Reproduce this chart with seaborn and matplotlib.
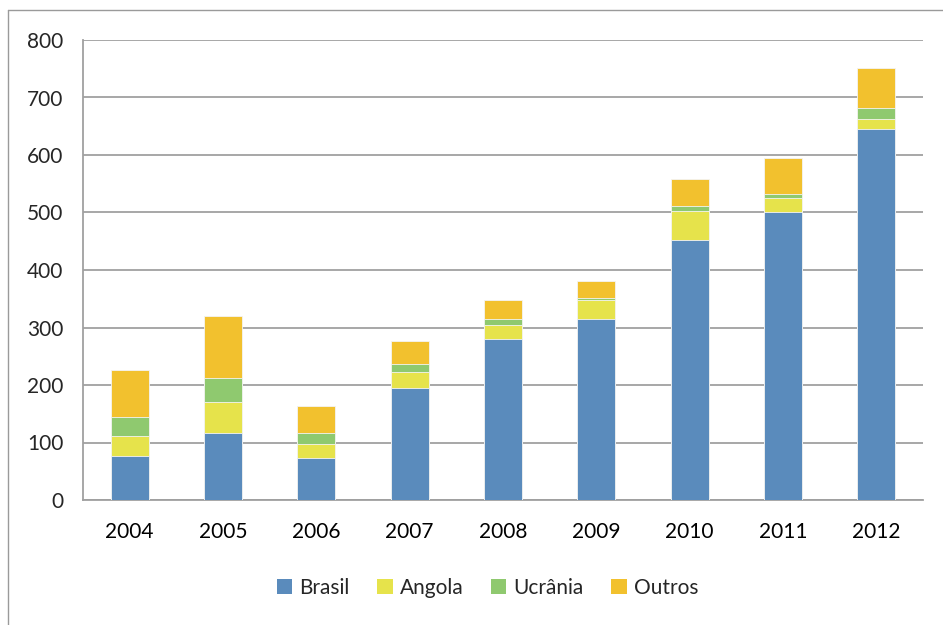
import matplotlib
matplotlib.use("Agg")
import matplotlib.pyplot as plt
from matplotlib.lines import Line2D
from matplotlib.patches import Patch
import seaborn as sns
import pandas as pd
import numpy as np

# Dados
anos = ["2004", "2005", "2006", "2007", "2008", "2009", "2010", "2011", "2012"]
brasil = [77, 117, 73, 194, 280, 315, 452, 500, 645]
angola = [35, 53, 24, 29, 25, 33, 50, 26, 17]
ucrania = [33, 42, 20, 13, 10, 4, 10, 7, 20]
outros = [81, 108, 46, 40, 33, 29, 46, 61, 69]

series = ["Brasil", "Angola", "Ucrânia", "Outros"]
cores = ["#5A8BBC", "#E6E34B", "#8FC96F", "#F2C12E"]

sns.set_style("white")
plt.rcParams["font.family"] = ["Lato", "DejaVu Sans"]

df = pd.DataFrame({"Ano": anos, "Brasil": brasil, "Angola": angola,
                   "Ucrânia": ucrania, "Outros": outros})
acum = df[series].cumsum(axis=1)
acum["Ano"] = df["Ano"]

fig = plt.figure(figsize=(9.43, 6.25), dpi=100)
ax = fig.add_axes([83 / 943, 125 / 625, 840 / 943, 460 / 625])

# barras empilhadas: desenhar do total para baixo
for nome, cor in reversed(list(zip(series, cores))):
    sns.barplot(data=acum, x="Ano", y=nome, color=cor, width=0.41,
                saturation=1, ax=ax, zorder=3, edgecolor="#F4F4F4", linewidth=0.6)

ax.set_xlim(-0.5, len(anos) - 0.5)
ax.set_ylim(0, 800)
ax.set_yticks(range(0, 801, 100))
ax.set_xlabel("")
ax.set_ylabel("")
ax.yaxis.grid(True, color="#A0A0A0", linewidth=1.3, zorder=0)
ax.set_axisbelow(True)

for s in ["top", "right"]:
    ax.spines[s].set_visible(False)
for s in ["left", "bottom"]:
    ax.spines[s].set_color("#A0A0A0")
    ax.spines[s].set_linewidth(1.3)

ax.set_xticks(np.arange(-0.5, len(anos), 1), minor=True)
ax.tick_params(axis="x", which="major", length=0, pad=16, labelsize=15, colors="#000000")
ax.tick_params(axis="x", which="minor", length=7, width=1.3, color="#A0A0A0", direction="out")
ax.tick_params(axis="y", length=5, width=1.3, color="#A0A0A0", direction="out",
               pad=9, labelsize=15)

handles = [Patch(facecolor=c, edgecolor="none") for c in cores]
fig.legend(handles, series, loc="center", bbox_to_anchor=(0.517, 1 - 588 / 625),
           ncol=4, frameon=False, fontsize=15, handlelength=0.75, handleheight=0.75,
           handletextpad=0.35, columnspacing=1.3)

# moldura cinza do gráfico
fig.add_artist(Line2D([8 / 943, 8 / 943], [0, 1 - 10 / 625], color="#9A9A9A", linewidth=1))
fig.add_artist(Line2D([8 / 943, 1], [1 - 10 / 625, 1 - 10 / 625], color="#9A9A9A", linewidth=1))

fig.savefig("out.png", dpi=100, facecolor="white")
